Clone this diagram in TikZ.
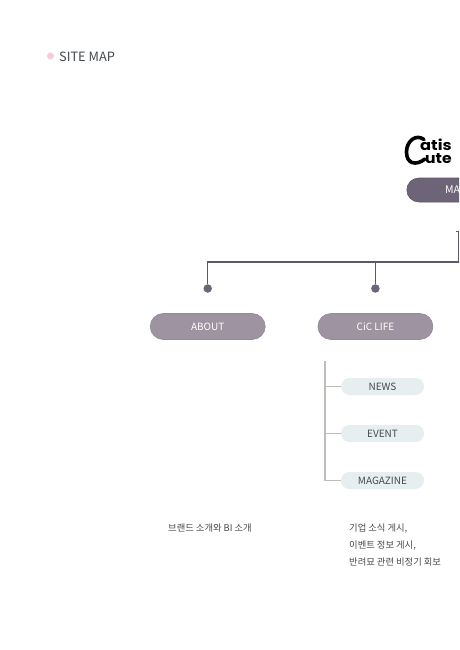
\documentclass[tikz,border=0pt]{standalone}
\usepackage{fontspec}
\setmainfont{Noto Sans CJK KR}
\newfontfamily\logofont{Poppins}
\usetikzlibrary{shapes.misc}
\definecolor{mainpill}{HTML}{6E6478}
\definecolor{subpill}{HTML}{9E93A0}
\definecolor{subedge}{HTML}{94899A}
\definecolor{lightpill}{HTML}{E6EEF0}
\definecolor{linedark}{HTML}{5F5868}
\definecolor{linelight}{HTML}{BDBDB8}
\definecolor{inktext}{HTML}{444A4D}
\definecolor{dotpink}{HTML}{F9CBDA}
\tikzset{
  mainbox/.style={rounded rectangle,minimum height=24pt,draw=linedark,fill=mainpill,line width=.6pt,inner sep=0pt},
  subbox/.style={rounded rectangle,minimum width=115pt,minimum height=26pt,draw=subedge,fill=subpill,line width=.6pt,inner sep=0pt,text=white,font=\fontsize{10}{10}\selectfont},
  leafbox/.style={rounded rectangle,minimum width=83pt,minimum height=17pt,fill=lightpill,inner sep=0pt,text=inktext,font=\fontsize{10}{10}\selectfont},
  enddot/.style={circle,fill=mainpill,minimum size=8.5pt,inner sep=0pt},
  trunk/.style={draw=linedark,line width=1.4pt},
  branch/.style={draw=linelight,line width=1.2pt},
  note/.style={anchor=west,inner sep=0pt,text=inktext,font=\fontsize{9.3}{9.3}\selectfont},
}
\begin{document}
\begin{tikzpicture}[x=1pt,y=-1pt]
\useasboundingbox (0,0) rectangle (459,650);
\clip (0,0) rectangle (459,650);
\fill[white] (0,0) rectangle (459,650);
% heading
\node[circle,fill=dotpink,minimum size=7pt,inner sep=0pt] (bullet) at (50.5,56) {};
\node[anchor=west,inner sep=0pt,text=inktext,font=\fontsize{12.8}{12.8}\selectfont] (title) at (59,56.5) {SITE MAP};
% logo
\draw[line cap=round,line join=round,line width=3.6pt] (424,139.5) .. controls (416,133.5) and (406.5,141) .. (406.5,152) .. controls (406.5,164) and (416,166) .. (425,159);
\node[anchor=west,inner sep=0pt,font=\logofont\bfseries\fontsize{12.5}{12.5}\selectfont] (logotop) at (420,144.5) {\scalebox{1.3}[1.15]{atis}};
\node[anchor=west,inner sep=0pt,font=\logofont\bfseries\fontsize{13}{13}\selectfont] (logobot) at (425,158.5) {\scalebox{1.2}[1.1]{ute}};
% main
\node[mainbox,anchor=west,minimum width=110pt] (main) at (406.5,190) {};
\node[anchor=west,inner sep=0pt,text=white,font=\fontsize{10.5}{10.5}\selectfont] (mainlabel) at (445,190) {MA};
% level one
\node[subbox] (about) at (207.7,326.5) {ABOUT};
\node[subbox] (life) at (375.4,326.5) {CiC LIFE};
\node[enddot] (dota) at (207.7,288.5) {};
\node[enddot] (dotb) at (375.4,288.5) {};
\coordinate (tick) at (455.5,231);
\coordinate (drop) at (458,231);
\coordinate (bus) at (458,262);
\coordinate (busedge) at (459,262);
\coordinate (busa) at (207.7,262);
\coordinate (busb) at (375.4,262);
\draw[trunk,line width=1pt] (tick) -- (drop) -- (bus);
\draw[trunk] (busedge) -- (busa) -- (dota);
\draw[trunk] (busb) -- (dotb);
% leaves
\node[leafbox] (news) at (382.5,386.5) {NEWS};
\node[leafbox] (event) at (382.5,433.5) {EVENT};
\node[leafbox] (mag) at (382.5,480.5) {MAGAZINE};
\coordinate (spine) at (325,361);
\draw[branch] (spine) |- (mag);
\draw[branch] (325,386.5) -- (news);
\draw[branch] (325,433.5) -- (event);
% notes
\node[note] (n1) at (168,528.5) {브랜드 소개와 BI 소개};
\node[note] (n2) at (349,528.5) {기업 소식 게시,};
\node[note] (n3) at (349,545.5) {이벤트 정보 게시,};
\node[note] (n4) at (349,562) {반려묘 관련 비정기 회보};
\end{tikzpicture}
\end{document}
